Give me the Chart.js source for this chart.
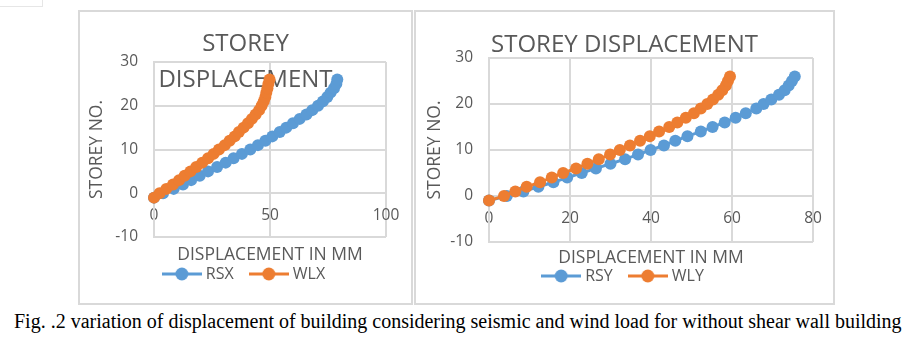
<!DOCTYPE html>
<html>
<head>
<meta charset="utf-8">
<script src="https://cdn.jsdelivr.net/npm/chart.js@4/dist/chart.umd.min.js"></script>
<style>
  body { margin: 0; background: #fff; width: 919px; height: 352px; position: relative; overflow: hidden; }
  .box { position: absolute; top: 10px; height: 295px; border: 2px solid #d9d9d9; box-sizing: border-box; }
  .box canvas { position: absolute; left: -2px; top: -2px; }
  .stub { position: absolute; left: -2px; top: -4px; width: 45px; height: 11px; border: 1px solid #e6e6e6; box-sizing: border-box; }
  #caption { position: absolute; left: 14px; top: 310px; font: 20px "Liberation Serif", "Times New Roman", serif; color: #000; white-space: nowrap; }
</style>
</head>
<body>
<div class="stub"></div>
<div class="box" style="left:78px;width:335px"><canvas id="chartX" width="335" height="295"></canvas></div>
<div class="box" style="left:414px;width:421px"><canvas id="chartY" width="421" height="295"></canvas></div>
<div id="caption">Fig. .2 variation of displacement of building considering seismic and wind load for without shear wall building</div>

<script>
// storey numbers (-1 = base) and displacements in mm
const storeys = [-1, 0, 1, 2, 3, 4, 5, 6, 7, 8, 9, 10, 11, 12, 13, 14, 15, 16, 17, 18, 19, 20, 21, 22, 23, 24, 25, 26]
const rsx = [0, 3.9, 8.5, 12.5, 16, 19.7, 23.3, 27.2, 30.9, 34.3, 37.9, 41.5, 44.8, 48, 51, 54.2, 57, 59.9, 62.8, 65.7, 68.2, 70.7, 72.8, 74.7, 76.1, 77.6, 78.6, 79]
const wlx = [0, 2.4, 5.3, 8.2, 10.8, 13.2, 15.7, 18.2, 20.8, 23.3, 25.7, 28, 30.5, 32.6, 34.8, 36.6, 38.6, 40.5, 42.2, 43.8, 45.3, 46.4, 47.3, 48, 48.4, 48.9, 49.3, 49.8]
const rsy = [0, 4.4, 8.5, 12.2, 15.9, 19.3, 22.9, 26.4, 30, 33.6, 36.8, 39.9, 43.2, 46, 49, 52.3, 55.2, 58.2, 60.9, 63.4, 66, 67.8, 69.7, 71.6, 73, 74, 74.8, 75.5]
const wly = [0, 3.7, 6.5, 9.3, 12.6, 15.5, 18.3, 21.5, 24.3, 27.1, 29.9, 32.3, 34.8, 37.3, 39.7, 42, 44.5, 46.5, 48.6, 50.6, 52.3, 53.9, 55.3, 56.6, 57.6, 58.5, 59, 59.5]

const xTicksX = { max: 100, step: 50 }
const xTicksY = { max: 80, step: 20 }
const yTicks = { min: -10, max: 30, step: 10 }

const BLUE = "#5B9BD5"
const ORANGE = "#ED7D31"
const GRID = "#d9d9d9"
const TEXT = "#595959"

Chart.defaults.font.family = '"Open Sans", sans-serif'
Chart.defaults.color = TEXT
Chart.defaults.animation = false

// line-with-marker swatch like the spreadsheet legend
function swatch(color) {
  const c = document.createElement("canvas")
  c.width = 40
  c.height = 14
  const g = c.getContext("2d")
  g.strokeStyle = color
  g.lineWidth = 3
  g.beginPath(); g.moveTo(0, 7); g.lineTo(40, 7); g.stroke()
  g.fillStyle = color
  g.beginPath(); g.arc(20, 7, 6.5, 0, Math.PI * 2); g.fill()
  return c
}

// chart title drawn over the plot, as in the original
const overlayTitle = {
  id: "overlayTitle",
  beforeDatasetsDraw(chart, args, opts) {
    const ctx = chart.ctx
    ctx.save()
    ctx.font = '24px "Open Sans", sans-serif'
    ctx.fillStyle = TEXT
    ctx.textAlign = "center"
    ctx.textBaseline = "alphabetic"
    opts.lines.forEach((line, i) => ctx.fillText(line, chart.width / 2, opts.baselines[i]))
    ctx.restore()
  }
}

function points(xs) {
  return xs.map((x, i) => ({ x: x, y: storeys[i] }))
}

function series(label, xs, color, order) {
  return {
    label: label,
    data: points(xs),
    borderColor: color,
    backgroundColor: color,
    borderWidth: 3,
    pointRadius: 6,
    pointBorderWidth: 0,
    pointHoverRadius: 6,
    showLine: true,
    clip: false,
    order: order,
    xAxisID: "x",
    yAxisID: "y"
  }
}

function makeChart(id, names, xsA, xsB, xt, lay) {
  const swatches = [swatch(BLUE), swatch(ORANGE)]
  return new Chart(document.getElementById(id), {
    type: "scatter",
    data: {
      datasets: [series(names[0], xsA, BLUE, 1), series(names[1], xsB, ORANGE, 0)]
    },
    plugins: [overlayTitle],
    options: {
      responsive: false,
      layout: { padding: { top: lay.top, right: 0, bottom: lay.bottom, left: 0 } },
      plugins: {
        overlayTitle: { lines: lay.title, baselines: lay.titleBase },
        tooltip: { enabled: false },
        legend: {
          position: "bottom",
          labels: {
            usePointStyle: true,
            pointStyleWidth: 32,
            padding: 19,
            color: TEXT,
            font: { size: 16 },
            generateLabels: (chart) => chart.data.datasets.map((ds, i) => ({
              text: ds.label,
              pointStyle: swatches[i],
              fillStyle: ds.borderColor,
              strokeStyle: ds.borderColor,
              lineWidth: 0,
              fontColor: TEXT,
              hidden: false,
              datasetIndex: i
            }))
          }
        }
      },
      scales: {
        x: {
          type: "linear",
          min: 0,
          max: xt.max,
          position: { y: 0 },
          ticks: { stepSize: xt.step, padding: 13, font: { size: 15.5 } },
          grid: { color: GRID, lineWidth: 2, drawTicks: false },
          border: { color: GRID, width: 2 }
        },
        x2: {
          type: "linear",
          min: 0,
          max: xt.max,
          position: "bottom",
          ticks: { display: false },
          grid: { display: false, drawTicks: false },
          border: { display: false },
          title: {
            display: true,
            text: "DISPLACEMENT IN MM",
            font: { size: 17.5 },
            padding: { top: 0, bottom: lay.xTitlePad }
          },
          afterFit: (s) => { s.height = lay.x2Height }
        },
        y: {
          type: "linear",
          min: yTicks.min,
          max: yTicks.max,
          ticks: { stepSize: yTicks.step, padding: 16, font: { size: 15.5 } },
          grid: { color: GRID, lineWidth: 2, drawTicks: false },
          border: { color: GRID, width: 2 },
          title: {
            display: true,
            text: "STOREY NO.",
            font: { size: 17.5 },
            padding: { top: lay.yTitlePad, bottom: 0 }
          },
          afterFit: (s) => { s.width = lay.yWidth }
        },
        // empty spacer on the right so the legend stays centred on the whole box
        y2: {
          type: "linear",
          position: "right",
          ticks: { display: false },
          grid: { display: false, drawTicks: false },
          border: { display: false },
          afterFit: (s) => { s.width = lay.rightGap }
        }
      }
    }
  })
}

makeChart("chartX", ["RSX", "WLX"], rsx, wlx, xTicksX, {
  top: 52,
  bottom: 13,
  rightGap: 27,
  title: ["STOREY", "DISPLACEMENT"],
  titleBase: [41, 77],
  x2Height: 10,
  xTitlePad: -18.5,
  yWidth: 76,
  yTitlePad: 8.5
})

makeChart("chartY", ["RSY", "WLY"], rsy, wly, xTicksY, {
  top: 48,
  bottom: 11,
  rightGap: 22,
  title: ["STOREY DISPLACEMENT"],
  titleBase: [41.5],
  x2Height: 7,
  xTitlePad: -19.5,
  yWidth: 75,
  yTitlePad: 10.5
})
</script>
</body>
</html>
